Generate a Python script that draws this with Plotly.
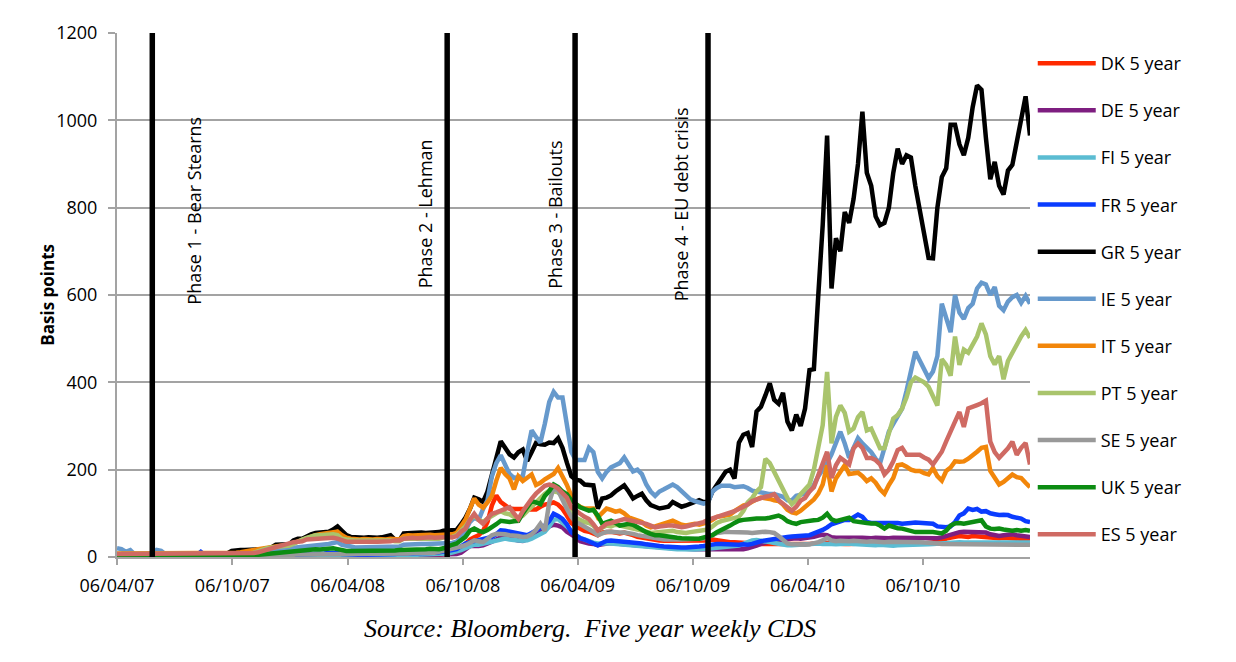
import pandas as pd
import plotly.graph_objects as go

# ---------------- data (weekly observations, basis points) ----------------
START_DATE = "2007-04-06"

DK = [3,3,3,3,3,3,3,3,3,3, 3,3,3,3,3,3,3,3,3,3, 3,3,3,3,3,3,3,3,3,3,
      3,3,3,3,3,3,3,3,3,3, 3,3,3,3,3,3,3,3,3,3, 3,3,3,3,3,3,3,3,3,3,
      3,3,3,3,4,4,4,4,4,4, 4,4,5,5,6,8,10,12,20,30,
      40,45,50,60,80,118,141,126,118,111, 110,111,110,109,108,109,115,120,122,125,
      120,110,95,78,70,64,60,58,55,50, 56,57,58,56,54,56,54,50,46,44,
      42,40,38,38,37,37,36,36,36,36, 36,36,36,37,38,40,38,36,35,34,
      34,33,32,32,31,31,30,30,30,30, 30,29,29,29,28,29,30,30,31,30,
      31,32,31,30,31,30,30,31,30,31, 30,31,30,30,31,30,30,31,30,31,
      31,30,31,31,32,33,34,36,42,45, 46,48,47,46,48,47,46,45,44,44,
      43,44,43,42,42,41,41,40]

DE = [2,2,2,2,2,2,2,2,2,2, 2,2,2,2,2,2,2,2,2,2, 2,2,2,2,2,2,2,2,2,2,
      2,2,2,2,2,2,2,2,2,2, 2,2,2,2,2,2,2,2,2,2, 3,3,3,3,3,3,3,3,3,3,
      3,3,3,3,4,4,4,4,4,4, 4,5,5,5,5,6,7,7,10,18,
      25,26,25,27,30,35,40,45,45,42, 40,38,37,40,45,50,55,62,70,74,
      72,68,58,52,45,36,33,31,30,27, 29,31,32,31,30,29,28,27,26,25,
      24,23,22,21,21,20,20,20,19,19, 18,18,18,18,18,17,17,16,16,16,
      16,17,18,20,22,26,30,34,36,38, 39,40,42,42,43,42,43,44,46,49,
      51,50,45,44,45,44,44,45,44,44, 43,43,44,43,42,43,44,44,43,44,
      43,42,43,42,42,42,43,45,48,52, 55,57,58,58,57,58,57,56,52,50,
      48,50,52,52,50,49,47,46]

FI = [3,3,3,3,3,3,3,3,3,3, 3,3,3,3,3,3,3,3,3,3, 3,3,3,3,3,3,3,3,3,3,
      3,3,3,3,3,3,3,3,3,3, 3,3,3,3,3,3,3,3,3,3, 4,4,4,4,4,4,4,4,4,4,
      4,4,4,5,5,5,5,5,5,6, 6,6,6,6,7,8,10,12,16,20,
      24,28,28,30,33,36,38,40,42,40, 38,38,37,38,42,48,52,58,70,85,
      87,80,70,60,50,44,40,36,33,31, 30,31,31,30,30,29,28,27,26,25,
      24,22,21,20,20,19,18,18,18,17, 17,17,18,18,19,20,21,22,24,24,
      25,26,30,35,38,39,38,36,34,32, 30,28,27,27,28,28,29,30,30,31,
      30,31,30,29,30,30,31,30,29,28, 28,27,27,28,27,27,26,27,27,28,
      27,27,28,28,29,30,31,32,33,33, 33,34,33,33,32,33,34,33,33,32,
      33,33,32,33,33,34,33,33]

FR = [3,3,3,3,3,3,3,3,3,3, 3,3,3,3,3,3,3,3,4,12, 4,3,3,3,3,3,3,3,3,3,
      3,3,3,4,4,4,4,5,5,5, 5,6,6,7,7,8,8,8,9,10, 9,7,6,5,4,5,5,5,6,6,
      6,6,7,7,8,8,8,9,9,10, 10,10,10,11,12,14,16,18,24,31,
      34,36,38,40,44,46,52,61,60,58, 57,55,52,50,55,61,65,72,82,99,
      94,87,75,57,50,43,40,36,32,27, 32,37,38,37,38,37,36,34,32,31,
      29,27,26,25,24,23,23,22,22,22, 22,23,24,25,27,28,30,30,29,28,
      27,28,29,28,30,34,36,38,40,42, 44,46,46,47,48,48,48,50,54,57,
      62,68,75,78,82,85,85,90,97,92, 80,78,78,79,78,78,77,78,76,78,
      78,79,78,77,78,76,70,68,68,70, 80,95,100,111,108,110,104,105,100,98,
      96,97,96,92,90,88,82,80]

GR = [6,6,6,6,6,6,6,6,6,6, 6,6,6,6,6,6,6,6,6,6, 6,6,6,6,7,8,14,16,16,16,
      16,17,18,18,19,22,28,29,30,29, 38,42,42,48,52,55,56,57,58,63,
      70,60,50,46,45,44,44,45,44,44, 45,47,50,40,38,54,55,54,55,56,
      55,55,56,57,60,60,60,62,75,90,
      110,136,132,126,150,190,230,265,250,235, 228,240,246,220,240,261,258,257,262,261,
      272,250,216,185,177,175,166,164,164,111, 134,136,141,150,158,164,150,134,140,145,
      130,119,115,111,113,115,126,120,115,118, 122,125,130,126,126,150,165,179,195,200,
      180,262,280,284,252,333,344,370,398,360, 351,376,310,290,326,300,340,428,430,600,
      760,965,615,730,700,790,765,820,900,1020, 880,850,780,760,765,800,880,935,900,920,
      915,850,790,740,685,684,800,870,890,990, 990,945,920,960,1030,1080,1070,960,865,905,
      850,830,885,898,950,1000,1055,965]

IE = [20,18,12,16,6,5,5,5,6,16, 14,6,5,5,5,5,5,5,5,5, 5,5,5,5,5,5,6,7,8,9,
      10,11,12,14,15,16,18,19,20,20, 22,22,24,25,26,27,28,28,30,32,
      34,28,25,24,22,22,23,22,22,22, 23,22,22,22,24,28,29,30,30,30,
      30,30,31,32,32,30,32,35,45,60,
      80,90,85,110,130,185,215,233,210,190, 181,183,185,240,290,275,262,305,355,378,
      365,365,300,241,222,222,222,250,240,195, 180,195,205,210,215,228,210,196,200,190,
      166,150,140,150,155,160,166,160,150,140, 132,128,125,122,125,150,158,163,163,163,
      160,160,162,158,152,150,148,145,144,144, 142,138,130,130,140,142,145,150,165,185,
      200,215,235,260,287,260,227,250,272,260, 249,240,225,215,250,287,305,325,340,380,
      420,470,450,430,410,425,460,580,550,515, 600,560,545,570,580,615,628,624,600,618,
      575,565,585,595,600,582,598,580]

IT = [8,8,8,8,8,8,8,8,8,8, 8,8,8,8,8,8,8,8,8,8, 8,8,8,8,8,8,9,10,11,12,
      14,16,18,20,22,24,25,26,27,27, 32,36,40,44,48,50,52,53,54,56,
      58,50,44,42,40,40,41,40,40,41, 40,40,42,40,40,48,50,49,50,50,
      50,51,50,50,52,52,52,55,70,85,
      110,134,120,113,125,140,175,204,190,180, 155,185,174,182,189,165,170,178,185,190,
      204,185,165,140,121,115,111,111,111,91, 100,111,108,104,106,100,91,88,85,80,
      72,68,70,74,76,80,83,78,74,72, 75,76,74,76,80,85,92,93,95,97,
      105,112,118,121,128,132,136,135,133,130, 128,120,108,102,100,106,114,122,132,145,
      166,210,150,180,197,210,190,192,193,185, 174,180,170,155,145,165,181,210,212,207,
      200,197,197,192,189,204,185,175,197,205, 219,218,219,225,232,241,250,252,197,180,
      166,172,181,189,183,181,170,160]

PT = [7,7,7,7,7,7,7,7,7,7, 7,7,7,7,7,7,7,7,7,7, 7,7,7,7,7,7,7,7,7,7,
      8,10,14,18,20,22,23,24,25,26, 30,36,40,44,48,50,50,51,50,52,
      50,42,40,38,38,38,37,38,38,38, 38,40,38,36,36,42,42,42,43,42,
      42,43,42,42,45,45,46,50,60,70,
      85,95,85,80,88,95,100,105,100,98, 92,90,95,105,115,128,135,145,152,150,
      148,140,120,100,90,85,80,78,72,62, 66,72,70,74,72,70,66,64,62,60,
      58,55,56,57,58,58,60,57,55,55, 57,58,60,61,63,70,78,82,85,88,
      90,92,105,125,135,150,160,225,215,195, 180,159,135,121,130,144,155,166,200,256,
      302,424,260,321,347,330,287,294,320,332, 290,294,270,249,249,279,317,325,340,365,
      400,411,405,400,390,370,347,453,440,415, 505,440,475,468,485,505,535,510,460,441,
      460,407,449,468,490,505,520,502]

SE = [3,3,3,3,3,3,3,3,3,3, 3,3,3,3,3,3,3,3,3,3, 3,3,3,3,3,3,3,3,3,3,
      3,3,3,3,4,4,4,5,5,5, 5,6,6,6,7,7,7,8,8,8, 8,7,7,6,6,6,6,6,7,7,
      7,7,7,7,8,8,8,9,9,9, 9,9,10,12,14,16,18,20,24,27,
      32,38,36,34,42,50,53,53,52,50, 50,48,46,47,52,62,76,60,125,158,
      152,128,110,92,80,75,70,63,58,50, 54,58,58,56,56,56,55,53,50,48,
      46,45,42,40,40,40,41,40,40,40, 40,41,42,43,46,50,55,57,58,57,
      57,58,58,56,55,56,58,58,57,55, 48,40,31,29,28,27,28,29,31,34,
      38,44,38,36,37,36,36,37,36,35, 35,36,35,35,34,35,35,36,35,34,
      35,34,34,33,33,32,31,30,30,29, 29,28,29,28,28,29,28,30,29,28,
      28,29,28,29,28,28,29,28]

UK = [2,2,2,2,2,2,2,2,2,2, 2,2,2,2,2,2,2,2,2,2, 2,2,2,2,2,2,2,2,2,2,
      3,4,5,6,8,10,11,12,13,14, 15,16,17,16,17,18,17,18,19,20,
      18,15,14,14,14,13,14,14,15,14, 14,15,14,15,16,16,17,18,18,18,
      18,19,18,18,20,25,28,31,38,46,
      60,65,60,57,62,68,75,83,82,80, 82,83,100,114,128,125,121,140,151,166,
      160,150,144,130,121,114,110,106,108,95, 76,80,83,78,72,74,76,74,68,62,
      57,53,50,50,48,47,46,44,43,42, 42,42,42,44,46,50,57,62,65,72,
      78,83,85,87,87,88,87,88,90,93, 95,90,82,78,76,80,82,82,84,85,
      90,99,86,82,85,86,90,82,80,78, 78,77,77,72,65,72,68,66,65,62,
      60,57,57,58,57,57,55,54,60,72, 77,78,76,78,80,82,84,70,65,64,
      65,63,62,60,62,60,62,60]

ES = [7,7,7,7,7,7,7,7,7,7, 7,7,7,7,7,7,7,7,7,7, 7,7,7,7,7,7,7,7,7,7,
      8,9,11,14,17,20,24,27,29,31, 34,35,36,40,41,42,42,43,45,44,
      42,38,35,35,34,35,35,34,35,35, 35,35,36,38,38,42,44,44,43,44,
      44,45,44,45,46,46,45,48,58,65,
      85,99,85,76,88,99,102,106,110,114, 100,87,105,121,133,145,155,163,166,163,
      157,148,136,114,105,99,92,87,75,61, 68,76,78,80,84,87,85,83,82,79,
      76,72,68,70,72,72,72,70,68,70, 72,74,76,80,85,88,92,95,99,100,
      105,110,114,120,128,132,135,138,140,144, 130,122,112,106,115,129,135,150,160,185,
      212,241,181,210,227,220,212,249,260,250, 227,227,222,212,189,200,219,245,250,234,
      234,236,234,228,223,212,225,241,265,285, 310,332,298,340,343,348,352,358,264,240,
      227,238,249,264,234,250,261,212]

SERIES_NAMES = ["DK 5 year", "DE 5 year", "FI 5 year", "FR 5 year", "GR 5 year",
                "IE 5 year", "IT 5 year", "PT 5 year", "SE 5 year", "UK 5 year",
                "ES 5 year"]
SERIES_VALUES = [DK, DE, FI, FR, GR, IE, IT, PT, SE, UK, ES]

TICK_DATES = ["2007-04-06", "2007-10-06", "2008-04-06", "2008-10-06",
              "2009-04-06", "2009-10-06", "2010-04-06", "2010-10-06"]
TICK_LABELS = ["06/04/07", "06/10/07", "06/04/08", "06/10/08",
               "06/04/09", "06/10/09", "06/04/10", "06/10/10"]

PHASE_DATES = ["2007-06-01", "2008-09-11", "2009-04-02", "2009-10-30"]
PHASE_LABELS = ["Phase 1 - Bear Stearns", "Phase 2 - Lehman",
                "Phase 3 - Bailouts", "Phase 4 - EU debt crisis"]

Y_TICKS = [0, 200, 400, 600, 800, 1000, 1200]

# ---------------- styling ----------------
COLORS = ["#ff2a00", "#7e1e80", "#5bbcd2", "#0a3cff", "#000000", "#6699cc",
          "#f2860a", "#a9c46c", "#999999", "#0c8c12", "#cf6a63"]
SANS = "Open Sans"
GRID = "#a3a3a3"

dates = pd.date_range(START_DATE, periods=len(GR), freq="7D")

fig = go.Figure()
for name, vals, col in zip(SERIES_NAMES, SERIES_VALUES, COLORS):
    fig.add_trace(go.Scatter(x=dates, y=vals, mode="lines", name=name,
                             legendgroup=name,
                             line=dict(color=col, width=4.5)))

# phase boundary lines
for d in PHASE_DATES:
    fig.add_shape(type="line", xref="x", yref="paper", x0=d, x1=d, y0=0, y1=1,
                  line=dict(color="black", width=5.5), layer="above")

label_shift = [42, -22, -20, -27]
label_bottom = [574, 610, 610, 581]
for d, txt, sh, yb in zip(PHASE_DATES, PHASE_LABELS, label_shift, label_bottom):
    fig.add_annotation(x=d, y=yb, xref="x", yref="y", text=txt, showarrow=False,
                       textangle=-90, xanchor="center", yanchor="bottom",
                       xshift=sh, font=dict(family=SANS, size=18, color="black"))

fig.add_annotation(text="<b>Basis points</b>", xref="paper", yref="paper",
                   x=-0.077, y=0.5, xanchor="center", yanchor="middle",
                   textangle=-90, showarrow=False,
                   font=dict(family=SANS, size=17, color="black"))

fig.add_annotation(text="<i>Source: Bloomberg.  Five year weekly CDS</i>",
                   xref="paper", yref="paper", x=0.518, y=-0.137,
                   xanchor="center", yanchor="middle", showarrow=False,
                   font=dict(family="Liberation Serif", size=26, color="black"))

# the page body adds an 8px margin, so the figure is sized to fit inside it
fig.update_layout(
    width=1228, height=654,
    margin=dict(l=109, r=206, t=15, b=105),
    paper_bgcolor="white", plot_bgcolor="white",
    font=dict(family=SANS, size=18, color="black"),
    showlegend=True,
    legend=dict(x=1.003, xanchor="left", y=0.977, yanchor="top",
                font=dict(family=SANS, size=18, color="black"),
                itemwidth=58, tracegroupgap=20.7,
                bgcolor="rgba(0,0,0,0)"),
    xaxis=dict(type="date", range=[dates[0], dates[-1]],
               tickvals=TICK_DATES, ticktext=TICK_LABELS,
               ticks="outside", ticklen=6, tickwidth=2, tickcolor=GRID,
               ticklabelstandoff=5,
               showgrid=False, showline=True, linecolor=GRID, linewidth=2,
               zeroline=False, tickfont=dict(family=SANS, size=18)),
    yaxis=dict(range=[0, 1200], tickvals=Y_TICKS,
               ticks="outside", ticklen=7, tickwidth=2, tickcolor=GRID,
               ticklabelstandoff=7,
               showgrid=True, gridcolor=GRID, gridwidth=2,
               showline=True, linecolor=GRID, linewidth=2, zeroline=False,
               tickfont=dict(family=SANS, size=18)),
)

fig.write_html("out.html")
